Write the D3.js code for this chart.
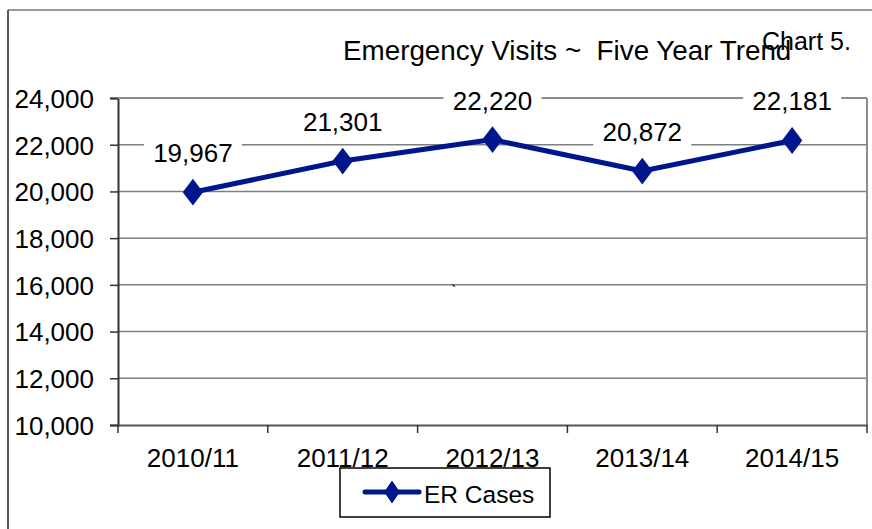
<!DOCTYPE html>
<html>
<head>
<meta charset="utf-8">
<script src="https://cdn.jsdelivr.net/npm/d3@7"></script>
<style>
  body { margin: 0; background: #fff; }
  text { font-family: "Liberation Sans", Arial, sans-serif; fill: #000; }
</style>
</head>
<body>
<script>
(function(){
'use strict';

var categories = ['2010/11', '2011/12', '2012/13', '2013/14', '2014/15'];
var erCases = [19967, 21301, 22220, 20872, 22181];
var yTicks = [10000, 12000, 14000, 16000, 18000, 20000, 22000, 24000];
var seriesName = 'ER Cases';
var titleText = 'Emergency Visits ~  Five Year Trend';
var chartNo = 'Chart 5.';

var W = 872, H = 529;
var left = 118, right = 867, top = 98, bottom = 425;
var navy = '#00168c';

var svg = d3.select('body').append('svg')
            .attr('width', W)
            .attr('height', H);

// outer frame (only top and left edges show)
svg.append('line').attr('x1', 8).attr('y1', 10).attr('x2', W).attr('y2', 10)
   .attr('stroke', '#777').attr('stroke-width', 1.5);
svg.append('line').attr('x1', 8).attr('y1', 10).attr('x2', 8).attr('y2', H)
   .attr('stroke', '#222').attr('stroke-width', 1.5);

var x = d3.scaleBand().domain(categories).range([left, right]);
var y = d3.scaleLinear().domain([10000, 24000]).range([bottom, top]);

function cx(d){ return x(d) + x.bandwidth() / 2; }

// gridlines
svg.append('g').selectAll('line')
   .data(yTicks.slice(1))
   .enter().append('line')
   .attr('x1', left).attr('x2', right)
   .attr('y1', function(d){ return y(d); })
   .attr('y2', function(d){ return y(d); })
   .attr('stroke', '#7f7f7f')
   .attr('stroke-width', 1.5);

// right border, grey
svg.append('line').attr('x1', right).attr('x2', right).attr('y1', top).attr('y2', bottom)
   .attr('stroke', '#8c8c8c').attr('stroke-width', 2);

// y axis
var yAxis = svg.append('g')
   .attr('transform', 'translate(' + left + ',0)')
   .call(d3.axisLeft(y).tickValues(yTicks).tickSize(8).tickPadding(16).tickFormat(d3.format(',')));
yAxis.select('.domain').attr('stroke', '#333').attr('stroke-width', 2);
yAxis.selectAll('.tick line').attr('stroke', '#333').attr('stroke-width', 1.5);
yAxis.selectAll('.tick text')
   .attr('font-size', 26)
   .attr('font-family', '"Liberation Sans", Arial, sans-serif')
   .attr('dy', '0.36em')
   .attr('fill', '#000');

// x axis
var xAxis = svg.append('g')
   .attr('transform', 'translate(0,' + bottom + ')')
   .call(d3.axisBottom(x).tickSize(0).tickPadding(24));
xAxis.select('.domain').attr('stroke', '#555').attr('stroke-width', 2);
xAxis.selectAll('.tick text')
   .attr('font-size', 26)
   .attr('font-family', '"Liberation Sans", Arial, sans-serif')
   .attr('dy', '0.71em')
   .attr('fill', '#000');

// category boundary ticks
var bounds = categories.map(function(c){ return x(c); }).concat([right]);
svg.append('g').selectAll('line')
   .data(bounds)
   .enter().append('line')
   .attr('x1', function(d){ return d; }).attr('x2', function(d){ return d; })
   .attr('y1', bottom).attr('y2', bottom + 8)
   .attr('stroke', '#333').attr('stroke-width', 1.5);

// top border, grey (drawn over y axis end)
svg.append('line').attr('x1', left).attr('x2', right).attr('y1', top).attr('y2', top)
   .attr('stroke', '#8c8c8c').attr('stroke-width', 2);

// stray mark in source picture
svg.append('text').attr('x', 451).attr('y', 297).attr('font-size', 16).text('`');

// series line
var line = d3.line()
   .x(function(d, i){ return cx(categories[i]); })
   .y(function(d){ return y(d); });

svg.append('path')
   .datum(erCases)
   .attr('d', line)
   .attr('fill', 'none')
   .attr('stroke', navy)
   .attr('stroke-width', 5)
   .attr('stroke-linejoin', 'round');

var diamond = d3.symbol().type(d3.symbolDiamond).size(230);

svg.append('g').selectAll('path')
   .data(erCases)
   .enter().append('path')
   .attr('d', diamond)
   .attr('transform', function(d, i){ return 'translate(' + cx(categories[i]) + ',' + y(d) + ') scale(1.25,0.95)'; })
   .attr('fill', navy);

// data labels with white boxes
var fmt = d3.format(',');
var labels = svg.append('g').selectAll('g')
   .data(erCases)
   .enter().append('g')
   .attr('transform', function(d, i){ return 'translate(' + cx(categories[i]) + ',' + (y(d) - 30) + ')'; });

labels.append('rect')
   .attr('x', -49).attr('y', -26)
   .attr('width', 98).attr('height', 32)
   .attr('fill', '#fff');

labels.append('text')
   .attr('text-anchor', 'middle')
   .attr('font-size', 26)
   .text(function(d){ return fmt(d); });

// title and chart number (they overlap in the source too)
svg.append('text')
   .attr('x', 343).attr('y', 60)
   .attr('font-size', 27.8)
   .style('white-space', 'pre')
   .text(titleText);

svg.append('text')
   .attr('x', 762).attr('y', 50)
   .attr('font-size', 25)
   .text(chartNo);

// legend
var lg = svg.append('g');
lg.append('rect')
  .attr('x', 340).attr('y', 468)
  .attr('width', 210).attr('height', 49)
  .attr('fill', '#fff')
  .attr('stroke', '#000')
  .attr('stroke-width', 1.5);
lg.append('line')
  .attr('x1', 365).attr('x2', 419).attr('y1', 492).attr('y2', 492)
  .attr('stroke', navy).attr('stroke-width', 5).attr('stroke-linecap', 'round');
lg.append('path')
  .attr('d', d3.symbol().type(d3.symbolDiamond).size(150))
  .attr('transform', 'translate(392,492) scale(1.2,1)')
  .attr('fill', navy);
lg.append('text')
  .attr('x', 424).attr('y', 503)
  .attr('font-size', 24.5)
  .text(seriesName);

})();
</script>
</body>
</html>
